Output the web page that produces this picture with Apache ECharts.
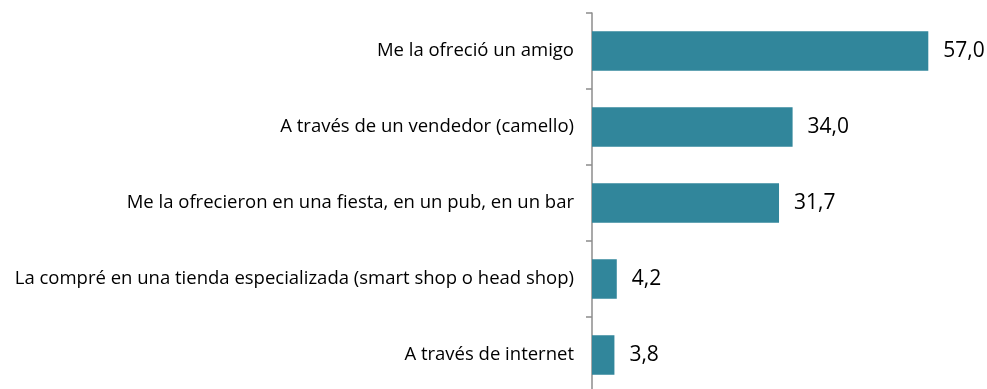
<!DOCTYPE html>
<html>
<head>
<meta charset="utf-8">
<script src="https://cdn.jsdelivr.net/npm/echarts@6/dist/echarts.min.js"></script>
<style>
html, body { margin: 0; padding: 0; background: #fff; overflow: hidden; }
#chart { width: 987px; height: 389px; }
</style>
</head>
<body>
<div id="chart"></div>
<script>
// Vías de obtención, porcentajes
const categories = [
  'Me la ofreció un amigo',
  'A través de un vendedor (camello)',
  'Me la ofrecieron en una fiesta, en un pub, en un bar',
  'La compré en una tienda especializada (smart shop o head shop)',
  'A través de internet'
];
const values = [57.0, 34.0, 31.7, 4.2, 3.8];

const chart = echarts.init(document.getElementById('chart'));
chart.setOption({
  animation: false,
  grid: {
    left: 592, right: 41, top: 13, bottom: -4,
    containLabel: false,
    outerBoundsMode: 'none'
  },
  xAxis: {
    type: 'value', min: 0, max: 60, show: false
  },
  yAxis: {
    type: 'category',
    data: categories,
    inverse: true,
    axisLine: { lineStyle: { color: '#8c8c8c', width: 1.5 } },
    axisTick: { show: true, length: 6, lineStyle: { color: '#8c8c8c', width: 1.5 } },
    axisLabel: {
      margin: 18,
      color: '#000',
      fontFamily: 'Open Sans',
      fontSize: 18.5
    }
  },
  series: [{
    type: 'bar',
    data: values,
    barCategoryGap: '48%',
    itemStyle: { color: '#31869b' },
    label: {
      show: true,
      position: 'right',
      distance: 15,
      color: '#000',
      fontFamily: 'Open Sans',
      fontSize: 21,
      formatter: p => p.value.toFixed(1).replace('.', ',')
    }
  }]
});
</script>
</body>
</html>
